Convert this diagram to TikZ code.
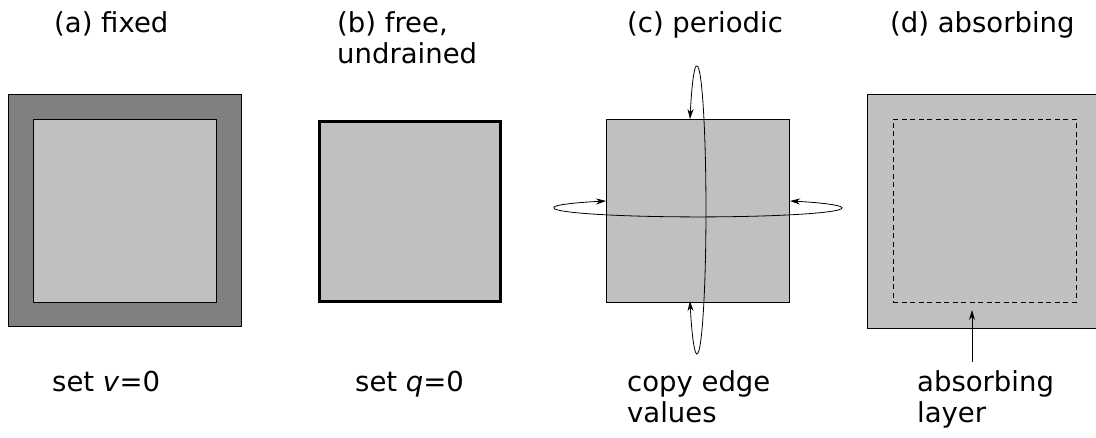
\documentclass[tikz,border=0pt]{standalone}
\usepackage{fontspec}
\setmainfont{DejaVu Sans}
\usetikzlibrary{arrows.meta}
\definecolor{tgray}{HTML}{C0C0C0}
\definecolor{fgray}{HTML}{808080}
\tikzset{
  tile/.style={rectangle, draw=black, fill=tgray, line width=0.8pt, inner sep=0pt,
               minimum width=183pt, minimum height=183pt},
  frame/.style={tile, fill=fgray, minimum width=233pt, minimum height=232pt},
  layerbox/.style={tile, fill=none, dash pattern=on 5pt off 3.5pt},
  caption/.style={anchor=base west, align=left, inner sep=0pt,
                  font=\fontsize{27.5}{31}\selectfont},
  wrap/.style={{Stealth[length=10pt,width=6pt]}-{Stealth[length=10pt,width=6pt]}, line width=0.8pt},
  pointer/.style={-{Stealth[length=10pt,width=6pt]}, line width=0.8pt}
}

\begin{document}
\begin{tikzpicture}[x=1pt, y=1pt]
  \useasboundingbox (0,0) rectangle (1096,438);

  % (a) fixed
  \node[frame] (fa) at (124.5,228) {};
  \node[tile] (pa) at (124.5,227) {};
  % (b) free
  \node[tile, line width=3pt, minimum width=181pt, minimum height=180pt] (pb) at (410,226.5) {};
  % (c) periodic
  \node[tile] (pc) at (698,227) {};
  % (d) absorbing
  \node[frame, fill=tgray, minimum width=235pt, minimum height=234pt] (fd) at (984.5,227) {};
  \node[layerbox] (pd) at (984.5,227) {};

  % titles (base = last line)
  \node[caption] (ta) at (54,405) {(a) fixed};
  \node[caption] (tb) at (337,374) {(b) free,\\undrained};
  \node[caption] (tc) at (627,405) {(c) periodic};
  \node[caption] (td) at (890,405) {(d) absorbing};

  \node[caption] (la) at (52,46) {set \textit{v}=0};
  \node[caption] (lb) at (355,46) {set \textit{q}=0};
  \node[caption] (lc) at (627,15) {copy edge\\values};
  \node[caption] (ld) at (917,15) {absorbing\\layer};

  \draw[wrap] ([xshift=-8pt]pc.north) arc[start angle=140.8, end angle=-140.8, x radius=9pt, y radius=144pt];
  \draw[wrap] ([yshift=10pt]pc.west) arc[start angle=129.7, end angle=410.3, x radius=144pt, y radius=9pt];

  \coordinate (layertail) at (972,76);
  \coordinate (layertip) at (972,128);
  \draw[pointer] (layertail) -- (layertip);
\end{tikzpicture}
\end{document}
